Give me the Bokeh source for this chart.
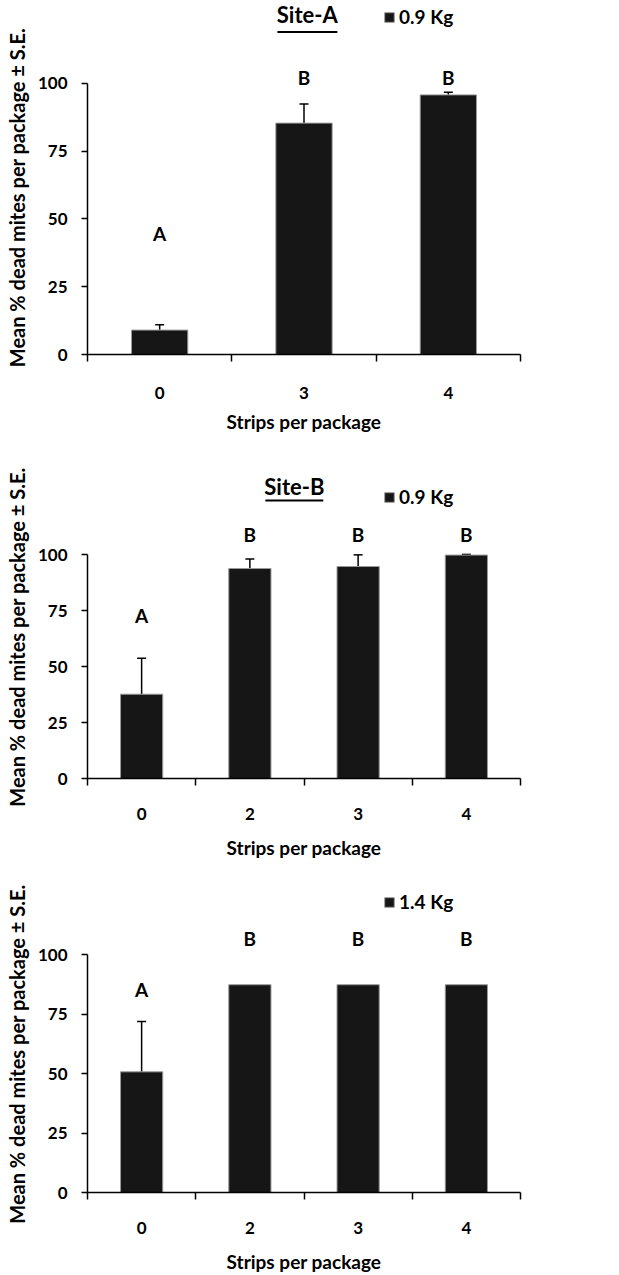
from bokeh.plotting import figure
from bokeh.models import (Range1d, FixedTicker, Whisker, TeeHead, ColumnDataSource,
                          Legend, LegendItem)
from bokeh.layouts import column
from bokeh.embed import file_html
from bokeh.resources import INLINE
from bokeh.core.properties import value

FONT = "Lato"
Y_LABEL = "Mean % dead mites per package ± S.E."
EN = "\u2002"  # en space, used to nudge the centred axis label downwards

# ---- data ----
y_ticks = [0, 25, 50, 75, 100]

# Site-A, 0.9 Kg
a_strips = ["0", "3", "4"]
a_mean = [9.0, 85.3, 95.7]
a_se = [2.0, 7.0, 1.0]
a_letters = ["A", "B", "B"]
a_letter_y = [44.7, 102.0, 102.0]

# Site-B, 0.9 Kg
b_strips = ["0", "2", "3", "4"]
b_mean = [37.7, 93.9, 94.8, 99.9]
b_se = [16.1, 4.2, 5.2, 0.3]
b_letters = ["A", "B", "B", "B"]
b_letter_y = [72.7, 109.0, 109.0, 109.0]

# 1.4 Kg
c_strips = ["0", "2", "3", "4"]
c_mean = [50.7, 87.3, 87.3, 87.3]
c_se = [21.2, 0.0, 0.0, 0.0]
c_letters = ["A", "B", "B", "B"]
c_letter_y = [85.2, 106.6, 106.6, 106.6]


def panel(strips, mean, se, letters, letter_y, legend_label, height, y_end,
          border_bottom, legend_vy, tick_standoff, label_standoff, pad,
          title=None, title_x=None, title_y=None, ul=None):
    n = len(strips)
    centers = [i + 0.5 for i in range(n)]
    p = figure(width=619, height=height, x_range=Range1d(0, n),
               y_range=Range1d(0, y_end), output_backend="svg",
               toolbar_location=None, min_border_left=87, min_border_right=99,
               min_border_top=0, min_border_bottom=border_bottom)
    p.outline_line_color = None
    p.xgrid.grid_line_color = None
    p.ygrid.grid_line_color = None
    p.background_fill_color = "white"

    src = ColumnDataSource(dict(x=centers, top=mean,
                                upper=[m + s for m, s in zip(mean, se)],
                                letter=letters, ly=letter_y))
    r = p.vbar(x="x", top="top", width=0.39, source=src,
               fill_color="#161616", line_color="#9a9a9a", line_width=1)

    wsrc = ColumnDataSource(dict(
        x=[c for c, s in zip(centers, se) if s > 0],
        lower=[m for m, s in zip(mean, se) if s > 0],
        upper=[m + s for m, s in zip(mean, se) if s > 0]))
    w = Whisker(base="x", lower="lower", upper="upper", source=wsrc,
                dimension="height", line_color="black", line_width=1.5,
                lower_head=None,
                upper_head=TeeHead(size=9, line_color="black", line_width=1.5))
    p.add_layout(w)

    p.text(x="x", y="ly", text="letter", source=src, text_align="center",
           text_baseline="middle", text_font=value(FONT),
           text_font_style="bold", text_font_size="19px", text_color="black")

    if title:
        p.text(x=[title_x], y=[title_y], text=[title], text_align="center",
               text_baseline="middle", text_font=value(FONT),
               text_font_style="bold", text_font_size="22px",
               text_color="black")
        p.segment(x0=[ul[0]], x1=[ul[1]], y0=[ul[2]], y1=[ul[2]],
                  line_color="black", line_width=2)

    leg = Legend(items=[LegendItem(label=legend_label, renderers=[r])],
                 location=(296, legend_vy), glyph_width=12, glyph_height=12,
                 label_standoff=4, padding=0, margin=0, spacing=0,
                 border_line_color=None, background_fill_alpha=0,
                 label_text_font=FONT, label_text_font_style="bold",
                 label_text_font_size="19px", label_text_color="black",
                 label_height=12)
    p.add_layout(leg)

    xa = p.xaxis[0]
    xa.ticker = FixedTicker(ticks=centers, minor_ticks=list(range(n + 1)))
    xa.major_label_overrides = {c: s for c, s in zip(centers, strips)}
    xa.major_tick_in = 0
    xa.major_tick_out = 0
    xa.minor_tick_in = 0
    xa.minor_tick_out = 7
    xa.minor_tick_line_color = "black"
    xa.minor_tick_line_width = 1.5
    xa.axis_line_color = "black"
    xa.axis_line_width = 1.5
    xa.major_label_standoff = tick_standoff
    xa.major_label_text_font = FONT
    xa.major_label_text_font_style = "bold"
    xa.major_label_text_font_size = "17px"
    xa.major_label_text_color = "black"
    xa.axis_label = "Strips per package"
    xa.axis_label_standoff = label_standoff
    xa.axis_label_text_font = FONT
    xa.axis_label_text_font_style = "bold"
    xa.axis_label_text_font_size = "19px"
    xa.axis_label_text_color = "black"

    ya = p.yaxis[0]
    ya.ticker = FixedTicker(ticks=y_ticks)
    ya.bounds = (0, 100)
    ya.major_tick_in = 0
    ya.major_tick_out = 6
    ya.major_tick_line_color = "black"
    ya.major_tick_line_width = 1.5
    ya.minor_tick_line_color = None
    ya.axis_line_color = "black"
    ya.axis_line_width = 1.5
    ya.major_label_standoff = 14
    ya.major_label_text_font = FONT
    ya.major_label_text_font_style = "bold"
    ya.major_label_text_font_size = "17px"
    ya.major_label_text_color = "black"
    ya.axis_label = Y_LABEL + EN * pad
    ya.axis_label_standoff = 6
    ya.axis_label_text_font = FONT
    ya.axis_label_text_font_style = "bold"
    ya.axis_label_text_font_size = "20px"
    ya.axis_label_text_color = "black"
    return p


p1 = panel(a_strips, a_mean, a_se, a_letters, a_letter_y, "0.9 Kg",
           height=445, y_end=130.5, border_bottom=91, legend_vy=326,
           tick_standoff=25, label_standoff=8, pad=4,
           title="Site-A", title_x=1.523, title_y=125.5,
           ul=(1.316, 1.731, 118.9))
p2 = panel(b_strips, b_mean, b_se, b_letters, b_letter_y, "0.9 Kg",
           height=420, y_end=148.9, border_bottom=87, legend_vy=270,
           tick_standoff=22, label_standoff=13, pad=5,
           title="Site-B", title_x=1.911, title_y=130.4,
           ul=(1.643, 2.178, 124.3))
p3 = panel(c_strips, c_mean, c_se, c_letters, c_letter_y, "1.4 Kg",
           height=410, y_end=137.4, border_bottom=82, legend_vy=279,
           tick_standoff=22, label_standoff=13, pad=5)

layout = column(p1, p2, p3, spacing=0)
open("out.html", "w").write(file_html(layout, INLINE))
